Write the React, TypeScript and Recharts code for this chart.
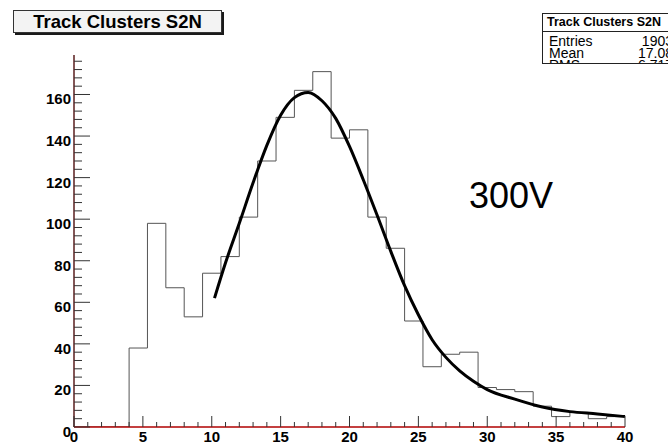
import React from 'react';
import { ComposedChart, Line, XAxis, YAxis } from 'recharts';

// histogram: 30 bins over [0, 40]
const X_LOW = 0;
const X_HIGH = 40;
const binCounts = [
  0, 0, 0, 38, 98, 67, 53, 74, 82, 101,
  128, 149, 162, 171, 139, 143, 101, 86, 51, 29,
  35, 36, 19, 18, 17, 10, 5, 7, 4, 5,
];

// fitted function, sampled
const fitX = [10.2, 11, 12, 13, 14, 15, 16, 17, 18, 19, 20, 21, 22, 23, 24, 25, 26, 27, 28, 29, 30, 32, 34, 36, 38, 40];
const fitY = [62, 79, 98, 117.5, 135.5, 150, 158.5, 161, 157, 148.5, 135, 119, 102, 84.5, 68, 54, 42, 33.5, 27, 22, 18, 13.4, 9.6, 7.4, 6.3, 5];

const xTicks = Array.from({ length: 41 }, (_, i) => i);
const xLabels = [0, 5, 10, 15, 20, 25, 30, 35, 40];
const yTicks = Array.from({ length: 45 }, (_, i) => i * 4);
const yLabels = [0, 20, 40, 60, 80, 100, 120, 140, 160];
const Y_MAX = 179;

const statsRows = [
  ['Entries', '1903'],
  ['Mean', '17.08'],
  ['RMS', '6.717'],
];

const binWidth = (X_HIGH - X_LOW) / binCounts.length;
const histData = [
  ...binCounts.map((c, i) => ({ x: X_LOW + i * binWidth, count: c })),
  { x: X_HIGH, count: binCounts[binCounts.length - 1] },
];
const fitData = fitX.map((x, i) => ({ x, fit: fitY[i] }));

const FONT = '"Liberation Sans", Arial, Helvetica, sans-serif';

const XTick = ({ x, y, payload }: any) => {
  const major = xLabels.includes(payload.value);
  return (
    <g>
      <line x1={x} x2={x} y1={y} y2={y - (major ? 11 : 5)} stroke="#333" strokeWidth={1} />
      {major && (
        <text x={x} y={y + 15} textAnchor="middle" fontFamily={FONT} fontWeight="bold" fontSize={15} fill="#000">
          {payload.value}
        </text>
      )}
    </g>
  );
};

const YTick = ({ x, y, payload }: any) => {
  const major = yLabels.includes(payload.value);
  return (
    <g>
      <line x1={x} x2={x + (major ? 16 : 8)} y1={y} y2={y} stroke="#333" strokeWidth={1} />
      {major && (
        <text x={x - 3} y={y + 10} textAnchor="end" fontFamily={FONT} fontWeight="bold" fontSize={15} fill="#000">
          {payload.value}
        </text>
      )}
    </g>
  );
};

export default function App() {
  return (
    <div style={{ position: 'absolute', left: 0, top: 0, width: 668, height: 444, overflow: 'hidden', background: '#fff', fontFamily: FONT }}>
      <ComposedChart width={668} height={444} margin={{ top: 55, right: 43, bottom: 0, left: 34 }}>
        <Line
          data={histData}
          dataKey="count"
          type="stepAfter"
          stroke="#555"
          strokeWidth={1}
          dot={false}
          activeDot={false}
          isAnimationActive={false}
        />
        <Line
          data={fitData}
          dataKey="fit"
          type="monotone"
          stroke="#000"
          strokeWidth={3}
          dot={false}
          activeDot={false}
          isAnimationActive={false}
        />
        <XAxis
          xAxisId="top"
          orientation="top"
          dataKey="x"
          type="number"
          domain={[X_LOW, X_HIGH]}
          height={0}
          tick={false}
          tickLine={false}
          axisLine={{ stroke: '#777', strokeWidth: 1 }}
        />
        <YAxis
          yAxisId="right"
          orientation="right"
          type="number"
          domain={[0, Y_MAX]}
          width={0}
          tick={false}
          tickLine={false}
          axisLine={{ stroke: '#444', strokeWidth: 1 }}
        />
        <XAxis
          dataKey="x"
          type="number"
          domain={[X_LOW, X_HIGH]}
          ticks={xTicks}
          interval={0}
          height={17}
          tickSize={0}
          tickMargin={0}
          tick={<XTick />}
          axisLine={{ stroke: '#b00000', strokeWidth: 1.5 }}
        />
        <YAxis
          type="number"
          domain={[0, Y_MAX]}
          allowDataOverflow
          ticks={yTicks}
          interval={0}
          width={40}
          tickSize={0}
          tickMargin={0}
          tick={<YTick />}
          axisLine={{ stroke: '#5a1e1e', strokeWidth: 1.5 }}
        />
      </ComposedChart>

      {/* histogram title */}
      <div
        style={{
          position: 'absolute',
          left: 13,
          top: 10,
          width: 207,
          height: 21,
          border: '1px solid #333',
          background: '#f3f3f3',
          boxShadow: '2px 2px 0 #1a1a1a',
          textAlign: 'center',
          fontWeight: 'bold',
          fontSize: 18.5,
          lineHeight: '22px',
          color: '#000',
        }}
      >
        Track Clusters S2N
      </div>

      {/* stats box */}
      <div
        style={{
          position: 'absolute',
          left: 542,
          top: 13,
          width: 140,
          height: 49,
          border: '1px solid #222',
          background: '#fff',
          overflow: 'hidden',
          color: '#000',
        }}
      >
        <div style={{ height: 17, borderBottom: '1px solid #222', fontWeight: 'bold', fontSize: 12.5, lineHeight: '17px', paddingLeft: 4, whiteSpace: 'nowrap' }}>
          Track Clusters S2N
        </div>
        <div style={{ height: 3 }} />
        {statsRows.map(([k, v]) => (
          <div key={k} style={{ position: 'relative', height: 12, fontSize: 14, lineHeight: '12px', whiteSpace: 'nowrap' }}>
            <span style={{ position: 'absolute', left: 6, top: 0 }}>{k}</span>
            <span style={{ position: 'absolute', right: 10, top: 0 }}>{v}</span>
          </div>
        ))}
      </div>

      {/* voltage annotation */}
      <div style={{ position: 'absolute', left: 469, top: 176, fontSize: 36, lineHeight: '40px', color: '#000' }}>300V</div>
    </div>
  );
}
